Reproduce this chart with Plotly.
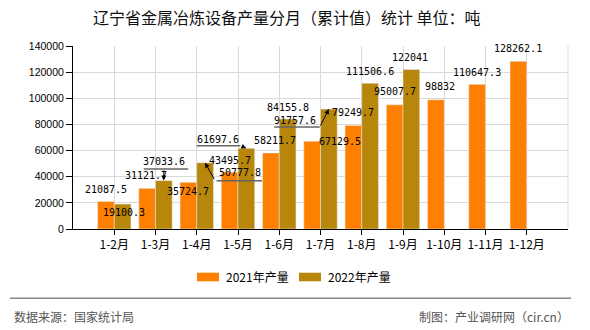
import plotly.graph_objects as go

categories = ["1-2月", "1-3月", "1-4月", "1-5月", "1-6月", "1-7月", "1-8月", "1-9月", "1-10月", "1-11月", "1-12月"]
values_2021 = [21087.5, 31121.7, 35724.7, 43495.7, 58211.7, 67129.5, 79249.7, 95007.7, 98832, 110647.3, 128262.1]
values_2022 = [19100.3, 37033.6, 50777.8, 61697.6, 84155.8, 91757.6, 111506.6, 122041, None, None, None]
labels_2021 = ["21087.5", "31121.7", "35724.7", "43495.7", "58211.7", "67129.5", "79249.7", "95007.7", "98832", "110647.3", "128262.1"]
labels_2022 = ["19100.3", "37033.6", "50777.8", "61697.6", "84155.8", "91757.6", "111506.6", "122041"]
series_names = ["2021年产量", "2022年产量"]
y_ticks = [0, 20000, 40000, 60000, 80000, 100000, 120000, 140000]

C21 = "#FF8000"
C22 = "#B8860B"

W, H = 590, 330
ML, MR, MT, MB = 73, 22, 46, 101
PW, PH = W - ML - MR, H - MT - MB


def px_x(p):
    return (p - ML) / PW


def px_y(p):
    return (H - MB - p) / PH


fig = go.Figure()
fig.add_trace(go.Bar(x=categories, y=values_2021, name=series_names[0], marker_color=C21, showlegend=False))
fig.add_trace(go.Bar(x=categories, y=values_2022, name=series_names[1], marker_color=C22, showlegend=False))

LBL_FONT = dict(family="DejaVu Sans Mono", size=10, color="#000")
BAR_OFF = 8.3

# (dx, dy) of label centre relative to bar top centre (screen px, y down)
off21 = [(0, -12), (-1, -13), (0, 9), (0, -12), (4, -12), (28, 0), (0, -13), (0, -13), (4, -13), (0, -12), (0, -13)]
off22 = [(1, 8), (0, -19), (35, 10), (-28, -9), (0, -12), (-34, 11), (0, -12), (-1, -12)]
# leader lines for 2022: index -> (underline dx0, dx1, dy, arrow tail dx, dy)
leaders22 = {1: (-21.6, 24.4, -11.6, 0, -11.6),
             2: (10, 57, 18, 10, 18),
             3: (-51, -6, -2.7, -6, -2.7),
             5: (-56, -9, 18, -9, 18)}

annotations = []
for i, (c, v) in enumerate(zip(categories, values_2021)):
    dx, dy = off21[i]
    annotations.append(dict(x=c, y=v, text=labels_2021[i], showarrow=False, font=LBL_FONT,
                            xshift=-BAR_OFF + dx, yshift=-dy))
for i, lab in enumerate(labels_2022):
    c, v = categories[i], values_2022[i]
    dx, dy = off22[i]
    annotations.append(dict(x=c, y=v, text=lab, showarrow=False, font=LBL_FONT,
                            xshift=BAR_OFF + dx, yshift=-dy))
    if i in leaders22:
        u0, u1, uy, tx, ty = leaders22[i]
        annotations.append(dict(x=c, y=v, text="", showarrow=True, arrowhead=0, arrowwidth=1.5,
                                arrowcolor="#666", standoff=0, startstandoff=0,
                                xshift=BAR_OFF + u1, yshift=-uy, ax=u0 - u1, ay=0))
        annotations.append(dict(x=c, y=v, text="", showarrow=True, arrowhead=2, arrowsize=1,
                                arrowwidth=1, arrowcolor="#000", standoff=0, startstandoff=0,
                                xshift=BAR_OFF, ax=tx, ay=ty))

CJK = "Noto Sans CJK SC"
# legend (custom)
annotations += [
    dict(xref="paper", yref="paper", x=px_x(224), y=px_y(276.7), text=series_names[0], showarrow=False,
         xanchor="left", yanchor="middle", font=dict(family=CJK, size=12, color="#000")),
    dict(xref="paper", yref="paper", x=px_x(326), y=px_y(276.7), text=series_names[1], showarrow=False,
         xanchor="left", yanchor="middle", font=dict(family=CJK, size=12, color="#000")),
    dict(xref="paper", yref="paper", x=px_x(12), y=px_y(316.7), text="数据来源：国家统计局", showarrow=False,
         xanchor="left", yanchor="middle", font=dict(family=CJK, size=12, color="#555")),
    dict(xref="paper", yref="paper", x=px_x(571), y=px_y(316.7), text="制图：产业调研网（cir.cn）", showarrow=False,
         xanchor="right", yanchor="middle", font=dict(family=CJK, size=12, color="#555")),
]

shapes = [
    dict(type="rect", xref="paper", yref="paper", x0=px_x(197), x1=px_x(219), y0=px_y(281.3), y1=px_y(272.7),
         fillcolor=C21, line=dict(width=0)),
    dict(type="rect", xref="paper", yref="paper", x0=px_x(299), x1=px_x(321), y0=px_y(281.3), y1=px_y(272.7),
         fillcolor=C22, line=dict(width=0)),
    dict(type="line", xref="paper", yref="paper", x0=px_x(10), x1=px_x(571), y0=px_y(298.3), y1=px_y(298.3),
         line=dict(color="#888", width=1.5)),
    dict(type="line", xref="paper", yref="paper", x0=1, x1=1, y0=0, y1=1, line=dict(color="#d9d9d9", width=1)),
]

fig.update_layout(
    width=W, height=H,
    margin=dict(l=ML, r=MR, t=MT, b=MB, pad=0),
    paper_bgcolor="white", plot_bgcolor="white",
    barmode="group", bargap=0.19, bargroupgap=0,
    title=dict(text="辽宁省金属冶炼设备产量分月（累计值）统计 单位：吨", xref="container", yref="container",
               x=93 / W, y=1 - 18 / H, xanchor="left", yanchor="middle",
               font=dict(family=CJK, size=16, color="#111")),
    xaxis=dict(type="category", range=[-1, 11], showgrid=True, gridcolor="#d9d9d9", gridwidth=1,
               showline=True, linecolor="#000", linewidth=1, ticks="outside", ticklen=5, tickcolor="#000",
               tickfont=dict(family=CJK, size=12, color="#000"), fixedrange=True),
    yaxis=dict(range=[0, 140000], tickvals=y_ticks, tickformat="d", showgrid=True, gridcolor="#d9d9d9",
               showline=True, linecolor="#000", linewidth=1, ticks="outside", ticklen=6, tickcolor="#000",
               zeroline=False, tickfont=dict(family="Liberation Sans", size=10.5, color="#000")),
    annotations=annotations,
    shapes=shapes,
    showlegend=False,
)

fig.write_html("out.html")
